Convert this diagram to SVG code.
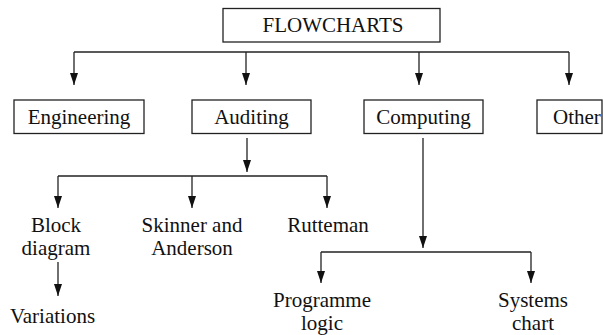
<svg xmlns="http://www.w3.org/2000/svg" width="603" height="335" viewBox="0 0 603 335">
<style>
.box{fill:#fff;stroke:#222;stroke-width:1.3}
text{font-family:'Liberation Serif','Times New Roman',Times,'DejaVu Serif',serif;font-size:21px;fill:#111;text-anchor:middle}
.c{fill:none;stroke:#222;stroke-width:1.3}
.a{fill:none;stroke:#222;stroke-width:1.3;marker-end:url(#ah)}
</style>
<defs>
<marker id="ah" markerUnits="userSpaceOnUse" markerWidth="13" markerHeight="9" refX="12" refY="4" orient="auto">
<path d="M0,0 L12,4 L0,8 z" fill="#111"/>
</marker>
</defs>
<rect width="603" height="335" fill="#fff"/>
<g id="connectors">
<path class="c" d="M74,52 H569"/>
<path class="a" d="M74,52 V85"/>
<path class="a" d="M246,52 V85"/>
<path class="a" d="M419,52 V85"/>
<path class="a" d="M569,52 V85"/>
<path class="a" d="M247,138 V172"/>
<path class="c" d="M58,176 H327"/>
<path class="a" d="M58,176 V208"/>
<path class="a" d="M192,176 V208"/>
<path class="a" d="M327,176 V208"/>
<path class="a" d="M58,262 V296"/>
<path class="a" d="M423,138 V248"/>
<path class="c" d="M321,252 H531"/>
<path class="a" d="M321,252 V283"/>
<path class="a" d="M531,252 V283"/>
</g>
<g id="flowcharts">
<rect class="box" x="223" y="8.5" width="217" height="33.5"/>
<text font-family="Liberation Serif, serif" x="333" y="32">FLOWCHARTS</text>
</g>
<g id="engineering">
<rect class="box" x="14" y="100" width="130" height="33.5"/>
<text font-family="Liberation Serif, serif" x="79" y="124">Engineering</text>
</g>
<g id="auditing">
<rect class="box" x="192" y="100" width="119" height="33.5"/>
<text font-family="Liberation Serif, serif" x="251.5" y="124">Auditing</text>
</g>
<g id="computing">
<rect class="box" x="364" y="100" width="119" height="33.5"/>
<text font-family="Liberation Serif, serif" x="423.5" y="124">Computing</text>
</g>
<g id="other">
<rect class="box" x="537" y="100" width="65" height="33.5"/>
<text font-family="Liberation Serif, serif" x="553" y="124" style="text-anchor:start">Other</text>
</g>
<g id="block-diagram">
<text font-family="Liberation Serif, serif" x="56" y="232">Block</text>
<text font-family="Liberation Serif, serif" x="56" y="255">diagram</text>
</g>
<g id="skinner-anderson">
<text font-family="Liberation Serif, serif" x="192" y="232">Skinner and</text>
<text font-family="Liberation Serif, serif" x="192" y="255">Anderson</text>
</g>
<g id="rutteman">
<text font-family="Liberation Serif, serif" x="328" y="232">Rutteman</text>
</g>
<g id="variations">
<text font-family="Liberation Serif, serif" x="52.5" y="323">Variations</text>
</g>
<g id="programme-logic">
<text font-family="Liberation Serif, serif" x="322" y="307">Programme</text>
<text font-family="Liberation Serif, serif" x="322" y="330">logic</text>
</g>
<g id="systems-chart">
<text font-family="Liberation Serif, serif" x="533" y="307">Systems</text>
<text font-family="Liberation Serif, serif" x="533" y="330">chart</text>
</g>
</svg>
